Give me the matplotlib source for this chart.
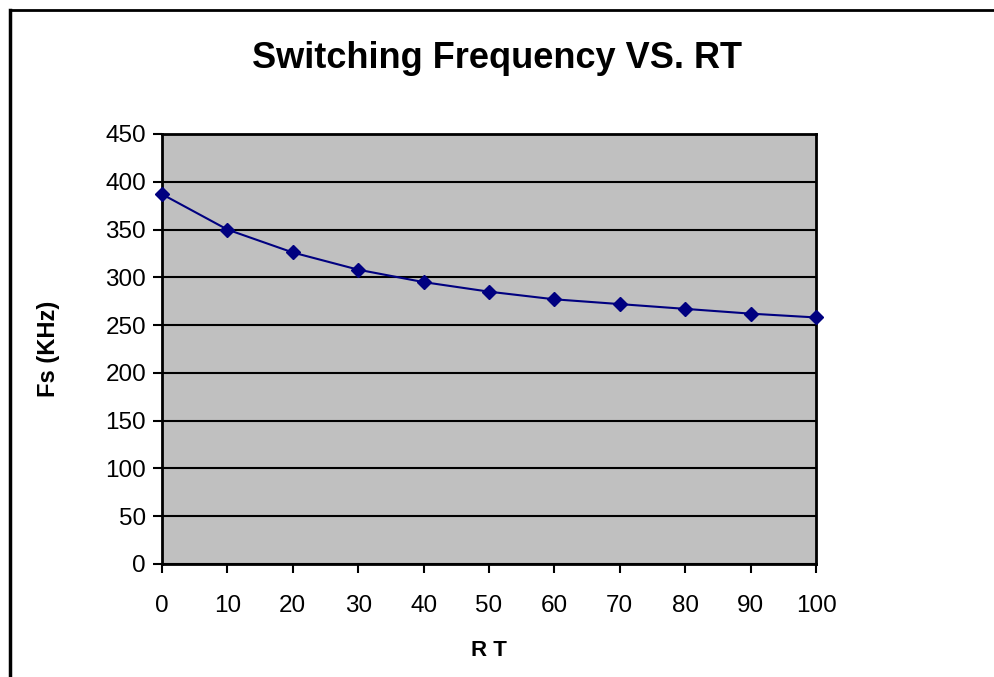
#!/usr/bin/env python3
"""Switching frequency vs RT chart."""

import matplotlib

matplotlib.use("Agg")
import matplotlib.pyplot as plt
from matplotlib.lines import Line2D

rt = [0, 10, 20, 30, 40, 50, 60, 70, 80, 90, 100]
fs_khz = [387, 350, 326, 308, 295, 285, 277, 272, 267, 262, 258]
x_ticks = list(range(0, 101, 10))
y_ticks = list(range(0, 451, 50))


def main():
    plt.rcParams["font.family"] = ["Liberation Sans", "DejaVu Sans"]

    fig = plt.figure(figsize=(9.94, 6.77), dpi=100)
    ax = fig.add_axes([162 / 994, 1 - 564 / 677, (816 - 162) / 994, (564 - 134) / 677])

    ax.set_facecolor("#c0c0c0")
    ax.plot(rt, fs_khz, color="#000080", lw=1.5, marker="D", ms=7.5,
            markerfacecolor="#000080", markeredgecolor="#000080", zorder=3,
            clip_on=False)

    ax.set_xlim(0, 100)
    ax.set_ylim(0, 450)
    ax.set_xticks(x_ticks)
    ax.set_yticks(y_ticks)
    ax.tick_params(axis="both", direction="out", length=6.5, width=1.5,
                   labelsize=17.5, colors="black")
    ax.tick_params(axis="x", pad=16)
    ax.tick_params(axis="y", pad=5)
    ax.grid(True, axis="y", color="black", lw=1.5)
    ax.set_axisbelow(True)

    for side in ["left", "bottom", "top", "right"]:
        ax.spines[side].set_linewidth(2)
        ax.spines[side].set_color("black")

    ax.set_xlabel("R T", fontsize=16, fontweight="bold")
    ax.xaxis.set_label_coords(0.5, (564 - 650) / 430, transform=ax.transAxes)
    ax.xaxis.label.set_va("center")
    ax.set_ylabel("Fs (KHz)", fontsize=17, fontweight="bold")
    ax.yaxis.set_label_coords((48 - 162) / 654, 0.5, transform=ax.transAxes)
    ax.yaxis.label.set_va("center")
    fig.text(0.5, 1 - 58 / 677, "Switching Frequency VS. RT", ha="center", va="center",
             fontsize=26, fontweight="bold")

    # outer chart border (only top and left visible in the crop)
    fig.add_artist(Line2D([10 / 994, 1.0], [1 - 10 / 677, 1 - 10 / 677],
                          transform=fig.transFigure, color="black", lw=2))
    fig.add_artist(Line2D([10 / 994, 10 / 994], [1 - 10 / 677, 0.0],
                          transform=fig.transFigure, color="black", lw=2.5))

    fig.savefig("out.png", dpi=100, facecolor="white")


if __name__ == "__main__":
    main()
